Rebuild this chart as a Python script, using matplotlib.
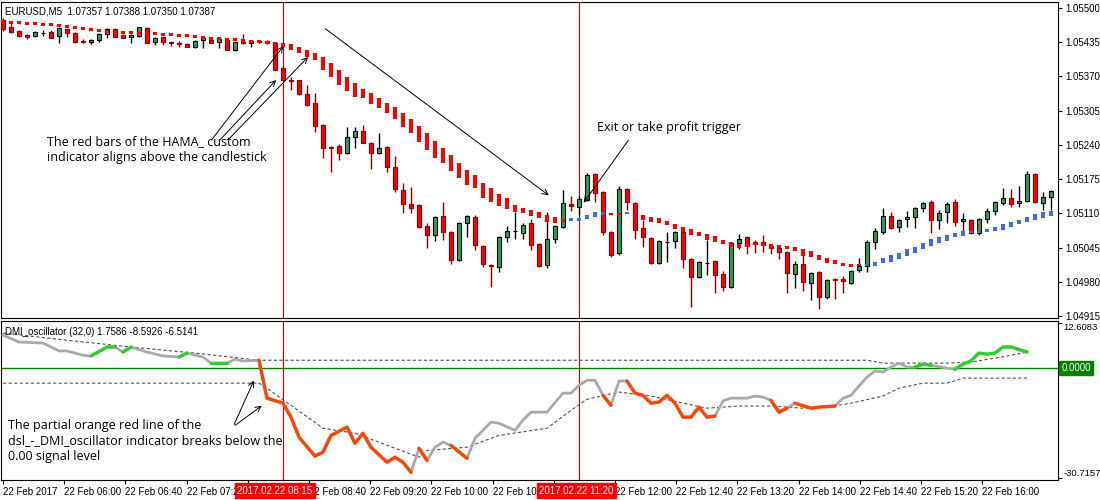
import numpy as np
import matplotlib.pyplot as plt
from matplotlib.patches import FancyArrowPatch

# EURUSD M5 candles, prices in points (1e-5)
open_ = [105477, 105464, 105456, 105449, 105447, 105452, 105454, 105447, 105460, 105452,
         105437, 105435, 105439, 105450, 105460, 105449, 105445, 105447, 105462, 105435,
         105445, 105435, 105433, 105431, 105426, 105439, 105439, 105435, 105439, 105420,
         105435, 105433, 105435, 105437, 105433, 105386, 105363, 105363, 105336, 105319,
         105278, 105236, 105238, 105224, 105255, 105266, 105243, 105224, 105236, 105198,
         105154, 105127, 105125, 105086, 105069, 105105, 105074, 105021, 105091, 105103,
         105048, 105011, 105008, 105065, 105076, 105072, 105091, 105051, 105011, 105061,
         105084, 105127, 105122, 105135, 105184, 105150, 105074, 105034, 105156, 105129,
         105082, 105063, 105015, 105055, 105057, 105074, 105023, 104989, 105015, 105019,
         104994, 104970, 105053, 105065, 105055, 105055, 105048, 105044, 105036, 104994,
         105013, 104977, 104998, 104951, 104985, 104985, 104977, 105002, 105010, 105055,
         105074, 105105, 105084, 105099, 105103, 105120, 105131, 105097, 105112, 105131,
         105095, 105097, 105072, 105099, 105114, 105129, 105139, 105129, 105133, 105184,
         105129, 105141]
high = [105481, 105471, 105458, 105450, 105456, 105458, 105458, 105464, 105462, 105454,
        105441, 105441, 105452, 105462, 105462, 105450, 105450, 105464, 105464, 105445,
        105447, 105437, 105437, 105433, 105439, 105445, 105441, 105443, 105441, 105437,
        105450, 105439, 105439, 105439, 105435, 105390, 105369, 105364, 105354, 105338,
        105279, 105238, 105241, 105274, 105274, 105278, 105245, 105262, 105238, 105219,
        105167, 105160, 105127, 105091, 105105, 105131, 105076, 105093, 105107, 105107,
        105050, 105013, 105067, 105086, 105112, 105091, 105099, 105053, 105112, 105088,
        105154, 105143, 105143, 105186, 105186, 105152, 105076, 105162, 105158, 105131,
        105097, 105065, 105059, 105074, 105076, 105076, 105025, 105019, 105059, 105021,
        105000, 105055, 105070, 105067, 105059, 105069, 105051, 105046, 105038, 105019,
        105034, 104998, 105000, 104985, 104987, 104991, 105002, 105025, 105059, 105082,
        105120, 105112, 105099, 105114, 105122, 105131, 105135, 105116, 105131, 105137,
        105110, 105099, 105101, 105120, 105133, 105158, 105156, 105162, 105190, 105186,
        105150, 105154]
low = [105456, 105452, 105445, 105441, 105445, 105447, 105443, 105433, 105445, 105433,
       105433, 105431, 105435, 105443, 105445, 105443, 105433, 105445, 105433, 105430,
       105430, 105428, 105426, 105426, 105424, 105424, 105433, 105424, 105420, 105419,
       105431, 105426, 105433, 105431, 105382, 105361, 105344, 105335, 105314, 105264,
       105215, 105188, 105211, 105222, 105234, 105243, 105194, 105222, 105188, 105150,
       105110, 105110, 105082, 105044, 105057, 105059, 105013, 105019, 105065, 105040,
       105008, 104970, 104998, 105055, 105061, 105061, 105040, 105008, 105006, 105053,
       105082, 105114, 105107, 105133, 105131, 105069, 105027, 105031, 105116, 105061,
       105046, 105013, 105013, 105017, 105044, 105006, 104932, 104987, 104993, 104958,
       104962, 104968, 105042, 105032, 105034, 105036, 105032, 105023, 104958, 104968,
       104962, 104945, 104928, 104947, 104947, 104958, 104975, 104998, 104998, 105042,
       105070, 105080, 105074, 105084, 105082, 105112, 105072, 105080, 105091, 105086,
       105076, 105070, 105069, 105091, 105107, 105126, 105122, 105122, 105131, 105129,
       105116, 105116]
close = [105460, 105454, 105447, 105445, 105454, 105453, 105443, 105462, 105452, 105435,
         105436, 105439, 105450, 105460, 105445, 105443, 105449, 105464, 105433, 105443,
         105435, 105433, 105432, 105426, 105437, 105443, 105433, 105441, 105420, 105435,
         105433, 105437, 105437, 105433, 105382, 105363, 105362, 105336, 105316, 105276,
         105234, 105235, 105224, 105255, 105266, 105243, 105224, 105234, 105198, 105156,
         105127, 105120, 105084, 105069, 105103, 105074, 105021, 105091, 105105, 105050,
         105013, 105010, 105065, 105076, 105077, 105088, 105050, 105010, 105061, 105086,
         105129, 105124, 105137, 105183, 105148, 105074, 105031, 105156, 105131, 105078,
         105065, 105015, 105057, 105056, 105074, 105023, 104989, 105017, 105016, 104993,
         104970, 105053, 105061, 105048, 105051, 105050, 105044, 105036, 104996, 105013,
         104979, 104996, 104951, 104983, 104984, 104981, 105000, 105010, 105055, 105076,
         105105, 105082, 105097, 105103, 105120, 105129, 105097, 105110, 105127, 105093,
         105099, 105072, 105099, 105114, 105131, 105139, 105127, 105133, 105184, 105131,
         105141, 105152]

# HAMA_ indicator band (top / bottom of each bar), points
hama_hi = [105477, 105475, 105475, 105473, 105473, 105471, 105471, 105469, 105468, 105466,
           105464, 105462, 105460, 105458, 105458, 105456, 105456, 105454, 105454, 105454,
           105452, 105452, 105450, 105450, 105449, 105447, 105445, 105445, 105443, 105443,
           105441, 105439, 105439, 105437, 105435,
           105433, 105431, 105426, 105420, 105414, 105407, 105395, 105382, 105369, 105357,
           105346, 105338, 105329, 105319, 105312, 105300, 105289, 105276, 105262, 105247,
           105234, 105221, 105205, 105192, 105183, 105167, 105158, 105146, 105139, 105125,
           105120, 105116, 105112, 105107, 105103, 105099,
           105101, 105101, 105107, 105112, 105112, 105110, 105110, 105112, 105108, 105107,
           105103, 105101, 105095, 105089, 105084, 105080, 105074, 105070, 105067, 105059,
           105055, 105051, 105051, 105053, 105053, 105051, 105050, 105048, 105046, 105042,
           105038, 105031, 105025, 105021, 105015, 105013, 105013, 105013, 105017, 105025,
           105031, 105034, 105042, 105046, 105053, 105061, 105065, 105069, 105072, 105076,
           105076, 105076, 105080, 105084, 105089, 105093, 105097, 105103, 105108, 105112,
           105114]
hama_lo = [105471, 105469, 105469, 105467, 105467, 105465, 105465, 105463, 105462, 105460,
           105458, 105456, 105454, 105452, 105452, 105450, 105450, 105448, 105448, 105448,
           105446, 105446, 105444, 105444, 105443, 105441, 105439, 105439, 105437, 105437,
           105435, 105433, 105433, 105431, 105429,
           105426, 105420, 105414, 105407, 105401, 105382, 105369, 105354, 105342, 105331,
           105329, 105318, 105310, 105300, 105289, 105274, 105262, 105245, 105230, 105215,
           105205, 105190, 105177, 105164, 105158, 105139, 105131, 105124, 105118, 105112,
           105110, 105105, 105101, 105093, 105091, 105093,
           105095, 105095, 105099, 105103, 105107, 105107, 105107, 105108, 105103, 105097,
           105093, 105091, 105088, 105080, 105074, 105069, 105067, 105059, 105055, 105051,
           105046, 105044, 105046, 105050, 105048, 105046, 105044, 105042, 105038, 105029,
           105027, 105021, 105015, 105013, 105010, 105008, 105010, 105010, 105010, 105015,
           105017, 105023, 105029, 105034, 105042, 105048, 105053, 105057, 105065, 105067,
           105072, 105072, 105074, 105076, 105078, 105084, 105089, 105093, 105097, 105101,
           105105]
hama_blue = [(71, 75), (78, 78), (108, 131)]

# DMI oscillator (bar, value)
osc_bar = [0, 2, 5, 7, 8, 10, 11, 13, 14, 15, 16, 18, 20, 22, 23, 25, 26, 28, 29, 30,
           32, 33, 35, 36, 37, 39, 40, 41, 43, 44, 45, 46, 48, 49, 50, 51, 52, 53, 54, 55,
           56, 58, 59, 61, 62, 64, 65, 66, 67, 68, 70, 71, 72, 73, 74, 75, 76, 77, 78, 79,
           80, 81, 82, 83, 84, 85, 86, 87, 88, 89, 90, 91, 92, 93, 94, 95, 96, 97, 98, 99,
           100, 101, 102, 104, 105, 106, 107, 108, 109, 110, 111, 112, 113, 114, 115, 116, 117, 118, 119, 120,
           121, 122, 123, 124, 125, 126, 128]
osc_val = [9.2, 7.3, 7.0, 4.8, 4.8, 3.6, 3.4, 5.9, 5.9, 4.5, 5.9, 4.5, 3.4, 3.1, 4.2, 3.1, 1.4, 1.4, 2.5, 2.0,
           2.2, -8.4, -9.8, -13.7, -19.3, -24.6, -23.5, -18.8, -16.5, -21.0, -18.2, -22.1, -26.3, -24.9, -26.3, -29.1, -22.4, -25.8, -22.1, -20.7,
           -21.6, -25.2, -19.6, -15.1, -15.4, -17.4, -14.5, -12.3, -12.3, -12.3, -7.0, -7.0, -4.8, -3.4, -3.4, -7.6, -10.4, -3.6, -3.6, -7.0,
           -7.6, -9.8, -9.5, -7.6, -9.8, -13.7, -13.7, -10.9, -13.7, -13.4, -9.2, -8.4, -8.4, -8.4, -7.8, -8.1, -9.0, -12.3, -11.2, -9.8,
           -10.5, -11.2, -10.9, -10.6, -8.4, -7.6, -5.0, -2.5, -0.8, -1.1, 0.3, 1.4, 0.3, 0.3, 1.1, 0.8, 0.4, 0.0, -0.3, 1.1,
           2.0, 4.2, 3.9, 4.2, 5.9, 5.9, 4.5]
osc_orange = [(32, 51), (52, 53), (56, 58), (75, 76), (78, 89), (96, 98), (99, 104)]
osc_green = [(11, 14), (15, 16), (22, 23), (26, 28), (114, 116), (119, 128)]

# dsl signal levels (bar, value)
up_bar = [0, 8, 16, 24, 32, 108, 110, 118, 121, 124, 126, 128]
up_val = [9.8, 7.8, 5.9, 4.2, 2.2, 2.2, 1.4, 1.4, 1.7, 2.8, 3.6, 4.5]
dn_bar = [0, 32, 33, 40, 44, 52, 53, 58, 62, 68, 71, 73, 77, 81, 85, 88, 92, 96, 100, 103,
          106, 110, 112, 115, 118, 120, 128]
dn_val = [-4.2, -4.2, -5.6, -16.8, -18.2, -24.9, -23.0, -22.1, -18.8, -16.8, -11.8, -8.7, -6.7, -7.8, -9.8, -11.2, -10.6, -10.6, -11.2, -10.9,
          -9.8, -7.8, -5.6, -4.2, -4.2, -2.8, -2.8]

time_labels = ["22 Feb 2017", "22 Feb 06:00", "22 Feb 06:40", "22 Feb 07:20", "22 Feb 08:00",
               "22 Feb 08:40", "22 Feb 09:20", "22 Feb 10:00", "22 Feb 10:40", "22 Feb 11:20",
               "22 Feb 12:00", "22 Feb 12:40", "22 Feb 13:20", "22 Feb 14:00", "22 Feb 14:40",
               "22 Feb 15:20", "22 Feb 16:00"]
price_ticks = [1.05500, 1.05435, 1.05370, 1.05305, 1.05240, 1.05175, 1.05110, 1.05045, 1.04980, 1.04915]

W, H = 1100, 500
plt.rcParams['font.family'] = ['Liberation Sans', 'DejaVu Sans']
fig = plt.figure(figsize=(11, 5), dpi=100)


def box(l, t, r, b):
    return [l / W, 1 - b / H, (r - l) / W, (b - t) / H]


def px(x, y):
    return (x / W, 1 - y / H)


def arrow(tail, head):
    fig.add_artist(FancyArrowPatch(px(*tail), px(*head), transform=fig.transFigure,
                                   arrowstyle="->", mutation_scale=10, lw=0.7, color="black"))


ax = fig.add_axes(box(1, 2, 1058, 318))
ax2 = fig.add_axes(box(1, 321, 1058, 480))

o = np.array(open_) / 1e5
c = np.array(close) / 1e5
hi = np.array(high) / 1e5
lo = np.array(low) / 1e5
x = np.arange(len(o))
bull = c >= o
wick_col = np.where(bull, "black", "#8b0000")
ax.vlines(x, lo, hi, colors=wick_col, lw=1, zorder=2)
body = np.maximum(np.abs(c - o), 0.000012)
ax.bar(x[bull], body[bull], bottom=np.minimum(o, c)[bull], width=0.6,
       color="#2e9e5b", edgecolor="black", lw=0.8, zorder=3)
ax.bar(x[~bull], body[~bull], bottom=np.minimum(o, c)[~bull], width=0.6,
       color="#ff0000", edgecolor="#8b0000", lw=0.8, zorder=3)

hh = np.array(hama_hi) / 1e5
hl = np.array(hama_lo) / 1e5
hcol = np.array(["#ff0000"] * len(hh), dtype=object)
for a, b in hama_blue:
    hcol[a:b + 1] = "#4169e1"
ax.bar(x, hh - hl, bottom=hl, width=0.42, color=list(hcol), lw=0, zorder=4)

ax.set_xlim(-0.25, 131.875)
ax.set_ylim(1.049112, 1.055114)
ax.yaxis.tick_right()
ax.set_yticks(price_ticks)
ax.set_yticklabels([f"{v:.5f}" for v in price_ticks])
ax.tick_params(axis="y", labelsize=7, length=3, direction="out", pad=2)
ax.set_xticks([])
ax.text(0.004, 0.985, "EURUSD,M5  1.07357 1.07388 1.07350 1.07387", transform=ax.transAxes,
        fontsize=7, va="top")

# oscillator panel
ax2.axhline(0, color="#008000", lw=1, zorder=1)
ax2.plot(up_bar, up_val, color="#555555", lw=0.8, ls=(0, (3, 2)), zorder=2)
ax2.plot(dn_bar, dn_val, color="#555555", lw=0.8, ls=(0, (3, 2)), zorder=2)
ob = np.array(osc_bar)
ov = np.array(osc_val)
ax2.plot(ob, ov, color="#a9a9a9", lw=2, zorder=3)
for rng, col in ((osc_orange, "#ff4500"), (osc_green, "#32cd32")):
    for a, b in rng:
        m = (ob >= a) & (ob <= b)
        ax2.plot(ob[m], ov[m], color=col, lw=2.4, zorder=4, solid_capstyle="round")
ax2.set_xlim(-0.25, 131.875)
ax2.set_ylim(-31.27, 13.17)
ax2.yaxis.tick_right()
ax2.set_yticks([12.6083, -30.7157])
ax2.set_yticklabels(["12.6083", "-30.7157"])
ax2.tick_params(axis="y", labelsize=6.8, length=3, pad=1)
ylabs = ax2.get_yticklabels()
ylabs[0].set_va("top")
ylabs[1].set_va("bottom")
ax2.text(1.003, 0, "0.0000", transform=ax2.get_yaxis_transform(), fontsize=7, color="white",
         va="center", ha="left", bbox=dict(boxstyle="square,pad=0.2", fc="#008000", ec="#008000"))
ax2.text(0.004, 0.96, "DMI_oscillator (32,0) 1.7586 -8.5926 -6.5141", transform=ax2.transAxes,
         fontsize=7, va="top")
tpos = [7.65 * j for j in range(len(time_labels))]
ax2.set_xticks(tpos)
ax2.set_xticklabels(time_labels, ha="left", fontsize=7)
ax2.tick_params(axis="x", length=3, pad=2)

for a_ in (ax, ax2):
    for b in (35, 72):
        a_.axvline(b, color="#cc0000", lw=0.8, zorder=1)
for b, s in ((29.3, "2017.02.22 08:15"), (67.0, "2017.02.22 11:20")):
    ax2.text(b, -0.035, s, transform=ax2.get_xaxis_transform(), fontsize=7, color="white",
             va="top", ha="left", zorder=10,
             bbox=dict(boxstyle="square,pad=0.25", fc="#ff0000", ec="#ff0000"))

# annotations
tf = dict(fontsize=9, family="Open Sans", color="black")
fig.text(*px(47, 150), "The red bars of the HAMA_ custom\nindicator aligns above the candlestick",
         va="center", linespacing=1.3, **tf)
arrow((210, 142), (285, 44))
arrow((218, 142), (278, 78))
arrow((226, 142), (310, 55))
arrow((323, 27), (551, 197))
fig.text(*px(597, 128), "Exit or take profit trigger", va="center", **tf)
arrow((630, 138), (582, 205))
fig.text(*px(8, 441), "The partial orange red line of the\ndsl_-_DMI_oscillator indicator breaks below the\n0.00 signal level",
         va="center", linespacing=1.25, **tf)
arrow((233, 427), (255, 378))
arrow((233, 427), (264, 404))

fig.savefig("out.png", dpi=100)
